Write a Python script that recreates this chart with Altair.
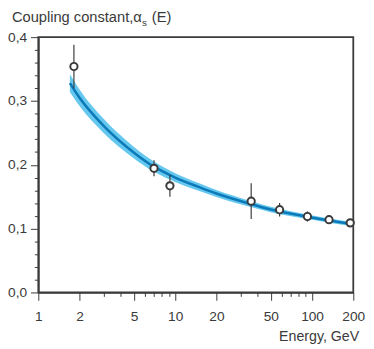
import altair as alt
import pandas as pd

# Curve (central value and half-width of band)
curve_E = [1.7, 2.0, 3.0, 5.0, 7.0, 10.0, 15.0, 20.0, 35.0, 50.0, 90.0, 130.0, 200.0]
curve_a = [0.328, 0.305, 0.261, 0.219, 0.197, 0.180, 0.165, 0.155, 0.139, 0.130, 0.119, 0.113, 0.107]
curve_w = [0.014, 0.013, 0.011, 0.009, 0.008, 0.0068, 0.006, 0.0055, 0.0048, 0.0043, 0.0037, 0.0034, 0.0031]

# Measurements
pt_E = [1.82, 7.0, 9.15, 35.9, 57.9, 92.5, 133.0, 190.0]
pt_a = [0.354, 0.1945, 0.167, 0.143, 0.1296, 0.119, 0.114, 0.109]
pt_err = [0.034, 0.0125, 0.017, 0.028, 0.0105, 0.008, 0.006, 0.004]

x_major = [1, 2, 5, 10, 20, 50, 100, 200]
x_minor = [3, 4, 6, 7, 8, 9, 30, 40, 60, 70, 80, 90]
y_major = [0.0, 0.1, 0.2, 0.3, 0.4]
y_minor = [0.02, 0.04, 0.06, 0.08, 0.12, 0.14, 0.16, 0.18, 0.22, 0.24, 0.26, 0.28,
           0.32, 0.34, 0.36, 0.38]

curve = pd.DataFrame({"E": curve_E, "a": curve_a,
                      "lo": [c - w for c, w in zip(curve_a, curve_w)],
                      "hi": [c + w for c, w in zip(curve_a, curve_w)]})
pts = pd.DataFrame({"E": pt_E, "a": pt_a,
                    "lo": [a - e for a, e in zip(pt_a, pt_err)],
                    "hi": [a + e for a, e in zip(pt_a, pt_err)]})

W, H = 322, 261
INK = "#3a3a3a"
FONT = "Liberation Sans"

xmaj_js = "[" + ",".join(str(v) for v in x_major) + "]"
ymaj_js = "[" + ",".join(str(v) for v in y_major) + "]"

xscale = alt.Scale(type="log", domain=[1, 200], nice=False)
yscale = alt.Scale(domain=[0, 0.4], nice=False, zero=False)

xaxis = alt.Axis(
    values=x_major + x_minor, title=None, grid=False,
    labelExpr=f"indexof({xmaj_js}, datum.value) >= 0 ? datum.value + '' : ''",
    tickSize={"condition": {"test": f"indexof({xmaj_js}, datum.value) >= 0", "value": 8}, "value": 4},
    labelPadding=10, labelFontSize=14, labelFont=FONT, labelColor=INK,
    domainColor=INK, domainWidth=1.8, tickColor=INK, tickWidth=1, labelFlush=False,
    labelOverlap=False,
)
yaxis = alt.Axis(
    values=y_major + y_minor, title=None, grid=False,
    labelExpr=f"indexof({ymaj_js}, datum.value) >= 0 ? replace(format(datum.value, '.1f'), '.', ',') : ''",
    tickSize={"condition": {"test": f"indexof({ymaj_js}, datum.value) >= 0", "value": 8}, "value": 4},
    labelPadding=4, labelFontSize=14, labelFont=FONT, labelColor=INK,
    domainColor=INK, domainWidth=1.8, tickColor=INK, tickWidth=1, labelOverlap=False,
)

X = alt.X("E:Q", scale=xscale, axis=xaxis)

base_c = alt.Chart(curve)
band = base_c.mark_area(color="#66c8ef", opacity=1, interpolate="monotone").encode(
    x=X,
    y=alt.Y("lo:Q", scale=yscale, axis=yaxis),
    y2="hi:Q",
)
line = base_c.mark_line(color="#0c7ab8", strokeWidth=2.6, interpolate="monotone").encode(
    x=X, y=alt.Y("a:Q", scale=yscale, axis=yaxis)
)

base_p = alt.Chart(pts)
err = base_p.mark_rule(color=INK, strokeWidth=1.2).encode(
    x=X, y=alt.Y("lo:Q", scale=yscale, axis=yaxis), y2="hi:Q"
)
dots = base_p.mark_point(filled=True, fill="white", stroke=INK, strokeWidth=2,
                         size=55, opacity=1).encode(
    x=X, y=alt.Y("a:Q", scale=yscale, axis=yaxis)
)

lab = pd.DataFrame({"t": [0]})
title1 = alt.Chart(lab).mark_text(text="Coupling constant,\u03b1", align="left", baseline="alphabetic",
                                  font=FONT, fontSize=15, color=INK).encode(
    x=alt.value(-27), y=alt.value(-15))
title2 = alt.Chart(lab).mark_text(text="s", align="left", baseline="alphabetic",
                                  font=FONT, fontSize=10, color=INK).encode(
    x=alt.value(106), y=alt.value(-11))
title3 = alt.Chart(lab).mark_text(text="(E)", align="left", baseline="alphabetic",
                                  font=FONT, fontSize=15, color=INK).encode(
    x=alt.value(116), y=alt.value(-15))
xtitle = alt.Chart(lab).mark_text(text="Energy, GeV", align="right", baseline="alphabetic",
                                  font=FONT, fontSize=14.5, color=INK).encode(
    x=alt.value(W + 6), y=alt.value(H + 50))

chart = alt.layer(band, line, err, dots, title1, title2, title3, xtitle).properties(
    width=W, height=H,
    autosize=alt.AutoSizeParams(type="none"),
    padding={"left": 31, "top": 26, "right": 13, "bottom": 53},
    background="white",
).configure_view(stroke=INK, strokeWidth=1.8).configure_axis(labelOverlap=False)

chart.save("out.html", embed_options={"renderer": "svg", "actions": False})
